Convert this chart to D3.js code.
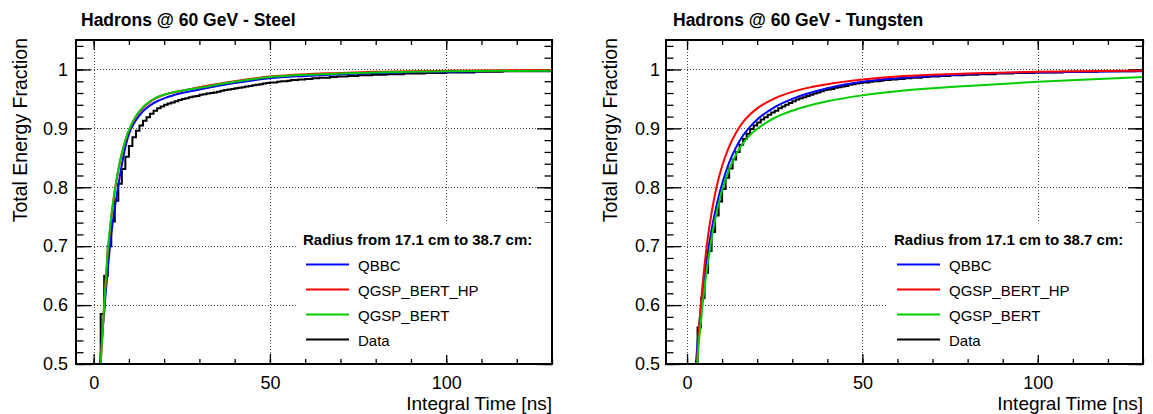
<!DOCTYPE html>
<html>
<head>
<meta charset="utf-8">
<script src="https://cdn.jsdelivr.net/npm/d3@7"></script>
<style>
  body { margin: 0; background: #fff; }
  svg text { font-family: "Liberation Sans", Arial, Helvetica, sans-serif; }
</style>
</head>
<body>
<svg id="chart" width="1153" height="414"></svg>
<script>
// ---- axis ticks ----
const yMajorTicks = [0.5, 0.6, 0.7, 0.8, 0.9, 1.0];
const xMajorTicks = [0, 50, 100];
const xMinorTicks = [0, 10, 20, 30, 40, 50, 60, 70, 80, 90, 100, 110, 120, 130];

// ---- legend ----
const legendHeader = "Radius from 17.1 cm to 38.7 cm:";
const seriesNames = ["QBBC", "QGSP_BERT_HP", "QGSP_BERT", "Data"];
const seriesColors = ["#0000ff", "#ff0000", "#00cc00", "#000000"];

// ---- Steel: simulated cumulative energy fraction vs integration time ----
const steelTimes = [1.5, 2, 3, 4, 5, 6, 7, 8, 9, 10, 12, 14, 16, 18, 20, 25, 30, 40, 50, 60, 70, 80, 100, 130];
const steelQBBC = [0.47, 0.515, 0.59, 0.66, 0.72, 0.765, 0.803, 0.838, 0.868, 0.89, 0.914, 0.929, 0.939, 0.946, 0.951, 0.96, 0.966, 0.977, 0.985, 0.989, 0.992, 0.994, 0.996, 0.998];
const steelBertHP = [0.45, 0.50, 0.60, 0.688, 0.748, 0.794, 0.829, 0.857, 0.879, 0.896, 0.92, 0.935, 0.945, 0.952, 0.957, 0.964, 0.970, 0.980, 0.988, 0.992, 0.994, 0.996, 0.998, 0.999];
const steelBert = [0.45, 0.50, 0.60, 0.69, 0.75, 0.795, 0.83, 0.858, 0.88, 0.897, 0.921, 0.936, 0.946, 0.953, 0.957, 0.964, 0.969, 0.979, 0.987, 0.991, 0.993, 0.995, 0.997, 0.998];

// Steel data histogram: 1 ns bins, first bin starts at 2 ns
const steelDataStart = 2;
const steelData = [
  0.585, 0.650, 0.700, 0.742, 0.777, 0.806, 0.831, 0.852, 0.870, 0.885,
  0.896, 0.905, 0.913, 0.919, 0.925, 0.930, 0.934, 0.937, 0.940, 0.942,
  0.944, 0.946, 0.948, 0.950, 0.951, 0.953, 0.954, 0.955, 0.957, 0.958,
  0.959, 0.960, 0.961, 0.962, 0.964, 0.965, 0.966, 0.967, 0.968, 0.969,
  0.970, 0.971, 0.972, 0.973, 0.974, 0.975, 0.976, 0.977, 0.978, 0.978,
  0.979, 0.980, 0.980, 0.981, 0.982, 0.982, 0.983, 0.983, 0.984,
  0.984, 0.985, 0.985, 0.986, 0.986, 0.986, 0.987, 0.987, 0.988, 0.988,
  0.988, 0.989, 0.989, 0.989, 0.990, 0.990, 0.990, 0.990, 0.991, 0.991,
  0.991, 0.991, 0.992, 0.992, 0.992, 0.992, 0.992, 0.993, 0.993, 0.993,
  0.993, 0.993, 0.993, 0.994, 0.994, 0.994, 0.994, 0.994, 0.994, 0.995,
  0.995, 0.995, 0.995, 0.995, 0.995, 0.995, 0.995, 0.996, 0.996, 0.996,
  0.996, 0.996, 0.996, 0.996, 0.996, 0.997, 0.997, 0.997, 0.997, 0.997,
  0.997, 0.997, 0.997, 0.997, 0.997, 0.997, 0.997, 0.997, 0.997
];

// ---- Tungsten ----
const tungstenTimes = [2.5, 3, 4, 5, 6, 7, 8, 9, 10, 12, 14, 16, 18, 20, 25, 30, 40, 50, 60, 70, 80, 100, 130];
const tungstenQBBC = [0.50, 0.535, 0.60, 0.65, 0.693, 0.728, 0.758, 0.784, 0.806, 0.842, 0.868, 0.888, 0.903, 0.915, 0.936, 0.950, 0.968, 0.979, 0.985, 0.989, 0.992, 0.995, 0.997];
const tungstenBertHP = [0.46, 0.52, 0.605, 0.668, 0.718, 0.757, 0.789, 0.815, 0.836, 0.869, 0.893, 0.911, 0.924, 0.934, 0.951, 0.962, 0.975, 0.983, 0.988, 0.991, 0.993, 0.996, 0.998];
const tungstenBert = [0.46, 0.51, 0.575, 0.63, 0.675, 0.713, 0.745, 0.772, 0.795, 0.83, 0.856, 0.875, 0.889, 0.899, 0.918, 0.93, 0.946, 0.956, 0.963, 0.968, 0.972, 0.979, 0.987];

const tungstenDataStart = 3;
const tungstenData = [
  0.562, 0.612, 0.655, 0.692, 0.724, 0.752, 0.776, 0.797, 0.816, 0.832,
  0.847, 0.860, 0.872, 0.882, 0.891, 0.899, 0.905, 0.910, 0.915, 0.919,
  0.923, 0.927, 0.930, 0.934, 0.937, 0.940, 0.943, 0.946, 0.949, 0.951,
  0.953, 0.955, 0.957, 0.959, 0.961, 0.963, 0.965, 0.966, 0.967, 0.969,
  0.970, 0.971, 0.972, 0.974, 0.975, 0.976, 0.977, 0.978, 0.978, 0.979,
  0.980, 0.980, 0.981, 0.982, 0.982, 0.983, 0.983, 0.984,
  0.984, 0.985, 0.985, 0.986, 0.986, 0.986, 0.987, 0.987, 0.988, 0.988,
  0.988, 0.989, 0.989, 0.989, 0.990, 0.990, 0.990, 0.990, 0.991, 0.991,
  0.991, 0.991, 0.992, 0.992, 0.992, 0.992, 0.992, 0.993, 0.993, 0.993,
  0.993, 0.993, 0.994, 0.994, 0.994, 0.994, 0.994, 0.994, 0.995, 0.995,
  0.995, 0.995, 0.995, 0.995, 0.995, 0.995, 0.996, 0.996, 0.996, 0.996,
  0.996, 0.996, 0.996, 0.996, 0.996, 0.996, 0.997, 0.997, 0.997, 0.997,
  0.997, 0.997, 0.997, 0.997, 0.997, 0.997, 0.997
];

const svg = d3.select("#chart");
const yDomain = [0.5, 1.05];
const plotTop = 40, plotBottom = 364;
const FONT = "'Liberation Sans', Arial, Helvetica, sans-serif";

function drawPanel(cfg, idx) {
  const x = d3.scaleLinear().domain(cfg.xDomain).range([cfg.left, cfg.right]);
  const y = d3.scaleLinear().domain(yDomain).range([plotBottom, plotTop]);
  const g = svg.append("g");

  const clipId = "clip" + idx;
  g.append("clipPath").attr("id", clipId)
    .append("rect")
    .attr("x", cfg.left).attr("y", plotTop)
    .attr("width", cfg.right - cfg.left).attr("height", plotBottom - plotTop);

  // grid at major ticks
  const grid = g.append("g").attr("stroke", "#444").attr("stroke-width", 1)
    .attr("stroke-dasharray", "1,2");
  grid.selectAll("line.gx").data(xMajorTicks).join("line")
    .attr("x1", d => Math.round(x(d)) + 0.5).attr("x2", d => Math.round(x(d)) + 0.5)
    .attr("y1", plotTop).attr("y2", plotBottom);
  grid.selectAll("line.gy").data(yMajorTicks.filter(v => v > 0.5)).join("line")
    .attr("y1", d => Math.round(y(d)) + 0.5).attr("y2", d => Math.round(y(d)) + 0.5)
    .attr("x1", cfg.left).attr("x2", cfg.right);

  const yMinor = d3.range(0.5, 1.0501, 0.02);

  // axes with inward ticks
  const axes = g.append("g").attr("font-family", FONT);
  axes.append("g").attr("transform", `translate(0,${plotBottom})`)
    .call(d3.axisBottom(x).tickValues(xMajorTicks).tickSize(-10).tickPadding(12)
      .tickFormat(d3.format("d")));
  axes.append("g").attr("transform", `translate(0,${plotBottom})`)
    .call(d3.axisBottom(x).tickValues(xMinorTicks).tickSize(-5).tickFormat(""));
  axes.append("g").attr("transform", `translate(0,${plotTop})`)
    .call(d3.axisTop(x).tickValues(xMajorTicks).tickSize(-10).tickFormat(""));
  axes.append("g").attr("transform", `translate(0,${plotTop})`)
    .call(d3.axisTop(x).tickValues(xMinorTicks).tickSize(-5).tickFormat(""));
  axes.append("g").attr("transform", `translate(${cfg.left},0)`)
    .call(d3.axisLeft(y).tickValues(yMajorTicks).tickSize(-15).tickPadding(cfg.yPad)
      .tickFormat(d => String(+d.toFixed(1))));
  axes.append("g").attr("transform", `translate(${cfg.left},0)`)
    .call(d3.axisLeft(y).tickValues(yMinor).tickSize(-7.5).tickFormat(""));
  axes.append("g").attr("transform", `translate(${cfg.right},0)`)
    .call(d3.axisRight(y).tickValues(yMajorTicks).tickSize(-15).tickFormat(""));
  axes.append("g").attr("transform", `translate(${cfg.right},0)`)
    .call(d3.axisRight(y).tickValues(yMinor).tickSize(-7.5).tickFormat(""));
  axes.selectAll(".domain").remove();
  axes.selectAll(".tick line").attr("stroke", "#000").attr("stroke-width", 1.3);
  axes.selectAll(".tick text").attr("font-size", 18).attr("fill", "#000")
    .attr("font-family", FONT);

  // curves
  const plot = g.append("g").attr("clip-path", `url(#${clipId})`);

  // data histogram (1 ns bins)
  const pts = [[cfg.dataStart, yDomain[0] - 0.01]];
  cfg.data.forEach((v, i) => pts.push([cfg.dataStart + i, v]));
  pts.push([cfg.dataStart + cfg.data.length, cfg.data[cfg.data.length - 1]]);
  plot.append("path")
    .attr("d", d3.line().x(d => x(d[0])).y(d => y(d[1])).curve(d3.curveStepAfter)(pts))
    .attr("fill", "none").attr("stroke", seriesColors[3]).attr("stroke-width", 2);

  const sims = [cfg.qbbc, cfg.bertHP, cfg.bert];
  const line = d3.line().x(d => x(d[0])).y(d => y(d[1])).curve(d3.curveMonotoneX);
  sims.forEach((vals, k) => {
    plot.append("path")
      .attr("d", line(cfg.times.map((t, i) => [t, vals[i]])))
      .attr("fill", "none").attr("stroke", seriesColors[k]).attr("stroke-width", 2);
  });

  // legend
  const lx = cfg.legendX;
  const leg = g.append("g");
  leg.append("rect").attr("x", lx - 6).attr("y", 223)
    .attr("width", cfg.right - 1 - (lx - 6)).attr("height", 132).attr("fill", "#fff");
  leg.append("text").attr("x", lx).attr("y", 245)
    .attr("font-size", 15).attr("font-weight", "bold").text(legendHeader);
  seriesNames.forEach((name, k) => {
    const ly0 = 264.5 + k * 25;
    leg.append("line").attr("x1", lx + 3).attr("x2", lx + 46)
      .attr("y1", ly0).attr("y2", ly0)
      .attr("stroke", seriesColors[k]).attr("stroke-width", 2);
    leg.append("text").attr("x", lx + 55).attr("y", ly0 + 6)
      .attr("font-size", 15).text(name);
  });

  // frame
  g.append("rect").attr("x", cfg.left).attr("y", plotTop)
    .attr("width", cfg.right - cfg.left).attr("height", plotBottom - plotTop)
    .attr("fill", "none").attr("stroke", "#000").attr("stroke-width", 2);

  // titles
  g.append("text").attr("x", cfg.titleX).attr("y", 26)
    .attr("font-size", 17.5).attr("font-weight", "bold").text(cfg.title);
  g.append("text").attr("x", cfg.right).attr("y", 409.5)
    .attr("text-anchor", "end").attr("font-size", 19).text("Integral Time [ns]");
  g.append("text").attr("transform", `translate(${cfg.yTitleX},38) rotate(-90)`)
    .attr("text-anchor", "end").attr("font-size", 19.5).text("Total Energy Fraction");
}

drawPanel({
  title: "Hadrons @ 60 GeV - Steel",
  left: 76, right: 552, xDomain: [-5, 130], yPad: 8,
  titleX: 81, yTitleX: 27, legendX: 303,
  times: steelTimes, qbbc: steelQBBC, bertHP: steelBertHP, bert: steelBert,
  dataStart: steelDataStart, data: steelData
}, 0);

drawPanel({
  title: "Hadrons @ 60 GeV - Tungsten",
  left: 666, right: 1143, xDomain: [-6, 130], yPad: 6,
  titleX: 673, yTitleX: 617, legendX: 894,
  times: tungstenTimes, qbbc: tungstenQBBC, bertHP: tungstenBertHP, bert: tungstenBert,
  dataStart: tungstenDataStart, data: tungstenData
}, 1);
</script>
</body>
</html>
